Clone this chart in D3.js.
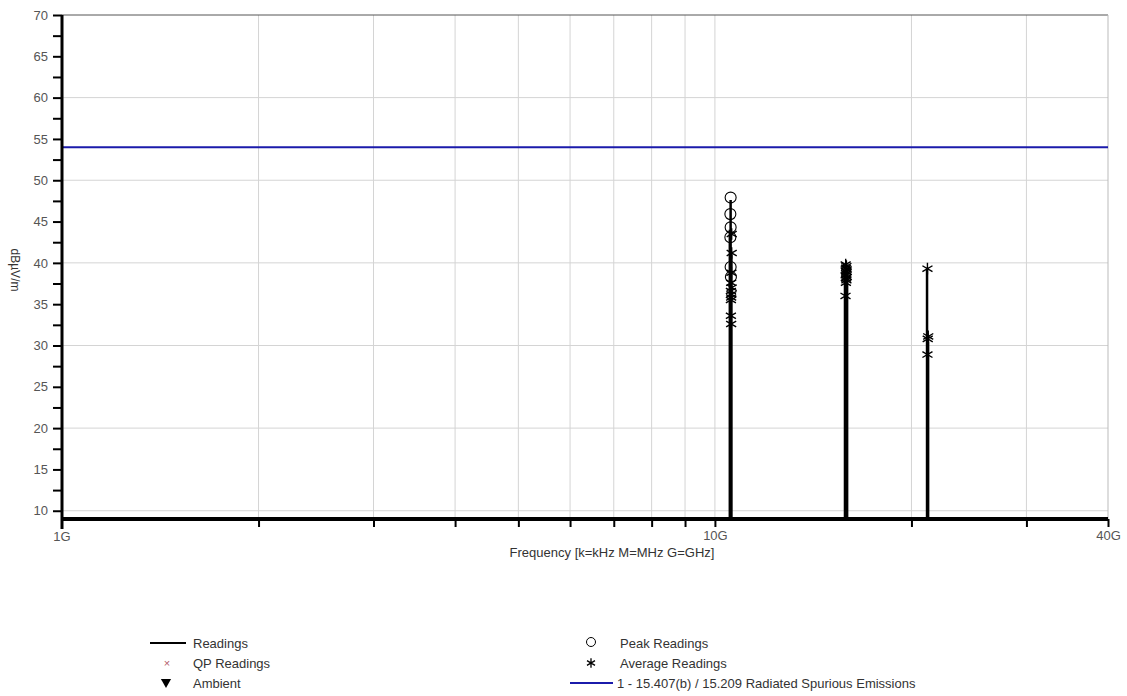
<!DOCTYPE html>
<html>
<head>
<meta charset="utf-8">
<script src="https://d3js.org/d3.v7.min.js"></script>
<style>
  body { margin: 0; background: #fff; }
  text { font-family: "Liberation Sans", Arial, sans-serif; }
</style>
</head>
<body>
<div id="chart"></div>
<script>
var svgWidth = 1127;
var svgHeight = 696;

var margin = { top: 15, right: 19, bottom: 177, left: 62 };
var width = svgWidth - margin.left - margin.right;
var height = svgHeight - margin.top - margin.bottom;

// Readings trace spikes (GHz, dBuV/m)
var readingsFreq = [10.54, 10.57, 10.60, 15.82, 15.85, 15.88, 15.91, 15.94, 21.13, 21.17, 21.21];
var readingsLevel = [44.0, 47.6, 41.0, 38.5, 39.8, 39.4, 39.0, 38.2, 39.2, 31.0, 30.5];

// Peak readings (circles)
var peakFreq = [10.57, 10.56, 10.57, 10.56, 10.57, 10.58];
var peakLevel = [47.9, 45.9, 44.3, 43.1, 39.5, 38.3];

// Average readings (asterisks)
var avgFreq = [10.61, 10.61, 10.60, 10.59, 10.61, 10.58, 10.60, 10.59, 10.58, 10.58, 10.59,
               15.86, 15.90, 15.88, 15.92, 15.87, 15.91, 15.89, 15.86, 15.92, 15.88, 15.90, 15.87, 15.85,
               21.16, 21.22, 21.18, 21.16];
var avgLevel = [43.5, 41.2, 38.8, 37.6, 37.0, 36.6, 36.2, 35.8, 35.5, 33.6, 32.6,
                39.8, 39.6, 39.4, 39.2, 39.0, 38.9, 38.7, 38.5, 38.3, 38.1, 37.9, 37.6, 36.0,
                39.3, 31.1, 30.8, 28.9];

// Limit line
var limitFreq = [1, 40];
var limitLevel = [54, 54];

// Axis ticks
var yTicks = d3.range(10, 70.01, 2.5);
var yGrid = [10, 20, 30, 40, 50, 60];
var xTicks = [2, 3, 4, 5, 6, 7, 8, 9, 10, 20, 30, 40];
var xLabels = { 1: "1G", 10: "10G", 40: "40G" };

var svg = d3.select("#chart")
  .append("svg")
  .attr("width", svgWidth)
  .attr("height", svgHeight);

var chartGroup = svg.append("g")
  .attr("transform", `translate(${margin.left}, ${margin.top})`);

var xScale = d3.scaleLog().domain([1, 40]).range([0, width]);
var yScale = d3.scaleLinear().domain([9, 70]).range([height, 0]);

// grid lines
chartGroup.selectAll(".hgrid")
  .data(yGrid)
  .enter()
  .append("line")
  .attr("x1", 0).attr("x2", width)
  .attr("y1", d => yScale(d)).attr("y2", d => yScale(d))
  .attr("stroke", "#d4d4d4");

chartGroup.selectAll(".vgrid")
  .data(xTicks.slice(0, -1))
  .enter()
  .append("line")
  .attr("x1", d => xScale(d)).attr("x2", d => xScale(d))
  .attr("y1", 0).attr("y2", height)
  .attr("stroke", "#d4d4d4");

// frame top / right
chartGroup.append("line")
  .attr("x1", 0).attr("x2", width).attr("y1", 0).attr("y2", 0)
  .attr("stroke", "#555");
chartGroup.append("line")
  .attr("x1", width).attr("x2", width).attr("y1", 0).attr("y2", height)
  .attr("stroke", "#bbb");

// limit line
var limitData = limitFreq.map((f, i) => [f, limitLevel[i]]);
chartGroup.append("path")
  .datum(limitData)
  .attr("fill", "none")
  .attr("stroke", "#1b1bab")
  .attr("stroke-width", 2)
  .attr("d", d3.line().x(d => xScale(d[0])).y(d => yScale(d[1])));

// readings spikes
chartGroup.selectAll(".reading")
  .data(readingsFreq)
  .enter()
  .append("line")
  .attr("x1", d => xScale(d)).attr("x2", d => xScale(d))
  .attr("y1", height)
  .attr("y2", (d, i) => yScale(readingsLevel[i]))
  .attr("stroke", "#000")
  .attr("stroke-width", 2.5);

// y axis
var leftAxis = d3.axisLeft(yScale)
  .tickValues(yTicks)
  .tickSize(9)
  .tickFormat(d => d % 5 === 0 ? d : "");

var yAxis = chartGroup.append("g")
  .call(leftAxis);
yAxis.select(".domain").remove();
yAxis.selectAll(".tick line").attr("stroke", "#000").attr("stroke-width", 2);
yAxis.selectAll(".tick text")
  .attr("x", -14)
  .attr("fill", "#555")
  .style("font-size", "13px");

chartGroup.append("line")
  .attr("x1", 0).attr("x2", 0).attr("y1", 0).attr("y2", height + 10)
  .attr("stroke", "#000").attr("stroke-width", 3);

// x axis
var bottomAxis = d3.axisBottom(xScale)
  .tickValues(xTicks)
  .tickSize(8)
  .tickFormat(d => xLabels[d] || "");

var xAxis = chartGroup.append("g")
  .attr("transform", `translate(0, ${height})`)
  .call(bottomAxis);
xAxis.select(".domain").remove();
xAxis.selectAll(".tick line").attr("stroke", "#000").attr("stroke-width", 2);
xAxis.selectAll(".tick text")
  .attr("y", 12)
  .attr("fill", "#555")
  .style("font-size", "13px");

chartGroup.append("text")
  .attr("x", 0)
  .attr("y", height + 22)
  .attr("text-anchor", "middle")
  .attr("fill", "#555")
  .style("font-size", "13px")
  .text("1G");

chartGroup.append("line")
  .attr("x1", 0).attr("x2", width).attr("y1", height).attr("y2", height)
  .attr("stroke", "#000").attr("stroke-width", 4);

// peak readings
chartGroup.selectAll(".peak")
  .data(peakFreq)
  .enter()
  .append("circle")
  .attr("cx", d => xScale(d))
  .attr("cy", (d, i) => yScale(peakLevel[i]))
  .attr("r", 5.5)
  .attr("fill", "none")
  .attr("stroke", "#000")
  .attr("stroke-width", 1.1);

// average readings
var asterisk = d3.symbol().type(d3.symbolAsterisk).size(95);
chartGroup.selectAll(".avg")
  .data(avgFreq)
  .enter()
  .append("path")
  .attr("transform", (d, i) => `translate(${xScale(d)}, ${yScale(avgLevel[i])})`)
  .attr("d", asterisk)
  .attr("fill", "none")
  .attr("stroke", "#000")
  .attr("stroke-width", 1.4);

// axis titles
svg.append("text")
  .attr("transform", "translate(11, 270) rotate(90)")
  .attr("text-anchor", "middle")
  .attr("fill", "#333")
  .style("font-size", "12px")
  .text("dBµV/m");

svg.append("text")
  .attr("x", 612)
  .attr("y", 557)
  .attr("text-anchor", "middle")
  .attr("fill", "#333")
  .style("font-size", "13px")
  .text("Frequency [k=kHz M=MHz G=GHz]");

// legend
var legend = svg.append("g").style("font-size", "13px");

legend.append("line")
  .attr("x1", 150).attr("x2", 186).attr("y1", 643).attr("y2", 643)
  .attr("stroke", "#000").attr("stroke-width", 2);
legend.append("text").attr("x", 193).attr("y", 648).attr("fill", "#333").text("Readings");

legend.append("text")
  .attr("x", 167).attr("y", 667)
  .attr("text-anchor", "middle")
  .attr("fill", "#b35b6b")
  .style("font-size", "11px")
  .text("×");
legend.append("text").attr("x", 193).attr("y", 668).attr("fill", "#333").text("QP Readings");

legend.append("path")
  .attr("transform", "translate(166, 682) rotate(180)")
  .attr("d", d3.symbol().type(d3.symbolTriangle).size(45))
  .attr("fill", "#000");
legend.append("text").attr("x", 193).attr("y", 688).attr("fill", "#333").text("Ambient");

legend.append("circle")
  .attr("cx", 591).attr("cy", 642).attr("r", 4.5)
  .attr("fill", "none").attr("stroke", "#000");
legend.append("text").attr("x", 620).attr("y", 648).attr("fill", "#333").text("Peak Readings");

legend.append("path")
  .attr("transform", "translate(591, 663)")
  .attr("d", d3.symbol().type(d3.symbolAsterisk).size(60))
  .attr("fill", "none").attr("stroke", "#000").attr("stroke-width", 1.3);
legend.append("text").attr("x", 620).attr("y", 668).attr("fill", "#333").text("Average Readings");

legend.append("line")
  .attr("x1", 570).attr("x2", 613).attr("y1", 683).attr("y2", 683)
  .attr("stroke", "#1b1bab").attr("stroke-width", 2);
legend.append("text").attr("x", 617).attr("y", 688).attr("fill", "#333")
  .text("1 - 15.407(b) / 15.209 Radiated Spurious Emissions");
</script>
</body>
</html>
